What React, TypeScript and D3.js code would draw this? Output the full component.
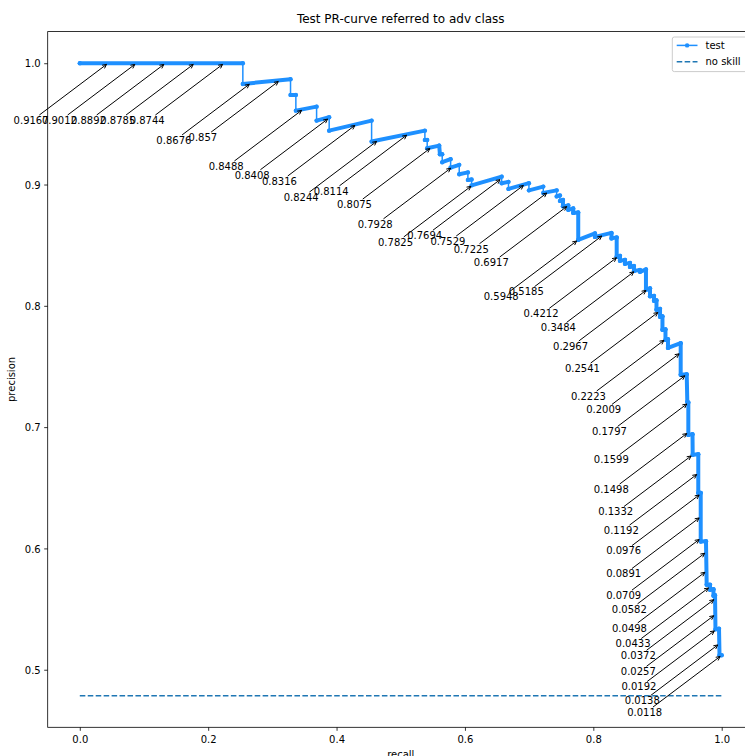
import React, { useEffect, useRef } from 'react'
import * as d3 from 'd3'

// PR curve vertices
const recall = [
  0, 0.254, 0.254, 0.3283, 0.3283, 0.3366, 0.3366, 0.3689, 0.3689, 0.3885,
  0.3885, 0.4546, 0.4546, 0.5376, 0.5376, 0.5412, 0.5412, 0.5599, 0.561, 0.5646,
  0.5646, 0.5777, 0.5777, 0.5911, 0.5911, 0.6046, 0.6046, 0.6104, 0.6104, 0.6572,
  0.6572, 0.6678, 0.6678, 0.6997, 0.6997, 0.722, 0.722, 0.7429, 0.7429, 0.748,
  0.748, 0.7527, 0.7527, 0.761, 0.761, 0.7687, 0.7687, 0.7765, 0.7765, 0.8026,
  0.8026, 0.8283, 0.8283, 0.8364, 0.8364, 0.8415, 0.8415, 0.8493, 0.8493, 0.8571,
  0.8571, 0.8633, 0.8633, 0.8727, 0.8727, 0.882, 0.882, 0.8883, 0.8883, 0.8945,
  0.8945, 0.8984, 0.8984, 0.9039, 0.9039, 0.9077, 0.9077, 0.9124, 0.9124, 0.9163,
  0.9163, 0.9361, 0.9361, 0.9455, 0.9464, 0.948, 0.948, 0.9545, 0.9548, 0.9635,
  0.9635, 0.9673, 0.9673, 0.9755, 0.9766, 0.9818, 0.9818, 0.9872, 0.9872, 0.9896,
  0.9903, 0.9958, 0.9966, 1.0
]
const precision = [
  1.0, 1.0, 0.9829, 0.9868, 0.9739, 0.9739, 0.9609, 0.9642, 0.9527, 0.9555,
  0.9444, 0.9527, 0.9354, 0.9444, 0.9368, 0.9368, 0.9299, 0.9321, 0.925, 0.925,
  0.9184, 0.9209, 0.914, 0.9162, 0.9085, 0.91, 0.9038, 0.9042, 0.8993, 0.9065,
  0.9011, 0.9022, 0.8964, 0.9011, 0.8952, 0.8983, 0.8931, 0.8952, 0.8902, 0.891,
  0.8865, 0.8873, 0.882, 0.8828, 0.8791, 0.8803, 0.8766, 0.877, 0.8544, 0.8597,
  0.8568, 0.8601, 0.8556, 0.8564, 0.8404, 0.8412, 0.8371, 0.8379, 0.8346, 0.8354,
  0.8321, 0.8329, 0.8288, 0.8296, 0.828, 0.83, 0.8132, 0.8144, 0.8078, 0.8082,
  0.8041, 0.8045, 0.7967, 0.7975, 0.7909, 0.7913, 0.7802, 0.7806, 0.7719, 0.7724,
  0.7653, 0.7692, 0.7431, 0.7435, 0.7208, 0.7204, 0.6936, 0.6941, 0.6772, 0.6776,
  0.6456, 0.6458, 0.6057, 0.6059, 0.57, 0.57, 0.5659, 0.5663, 0.5609, 0.5614,
  0.5333, 0.5338, 0.5119, 0.5119
]

// thresholds written next to the curve, and the curve point each one marks
const thrLabels = [
  '0.9167', '0.9012', '0.8892', '0.8785', '0.8744', '0.8676', '0.857', '0.8488',
  '0.8408', '0.8316', '0.8244', '0.8114', '0.8075', '0.7928', '0.7825', '0.7694',
  '0.7529', '0.7225', '0.6917', '0.5948', '0.5185', '0.4212', '0.3484', '0.2967',
  '0.2541', '0.2223', '0.2009', '0.1797', '0.1599', '0.1498', '0.1332', '0.1192',
  '0.0976', '0.0891', '0.0709', '0.0582', '0.0498', '0.0433', '0.0372', '0.0257',
  '0.0192', '0.0138', '0.0118'
]
const thrRecall = [
  0.0441, 0.0882, 0.1334, 0.1792, 0.2249, 0.2665, 0.3117, 0.348, 0.3885, 0.431,
  0.4649, 0.5116, 0.5479, 0.5802, 0.6118, 0.6572, 0.6935, 0.7298, 0.761, 0.7765,
  0.8155, 0.8385, 0.8655, 0.8845, 0.903, 0.9124, 0.9361, 0.945, 0.948, 0.948,
  0.9548, 0.9635, 0.9673, 0.9673, 0.9673, 0.976, 0.9763, 0.9818, 0.99, 0.99,
  0.991, 0.9963, 1.0
]
const thrPrecision = [
  1.0, 1.0, 1.0, 1.0, 1.0, 0.9836, 0.9859, 0.9621, 0.9549, 0.9497,
  0.9365, 0.9416, 0.9307, 0.9144, 0.8995, 0.905, 0.9002, 0.8939, 0.8828, 0.8544,
  0.8585, 0.8406, 0.829, 0.8137, 0.7955, 0.7725, 0.7614, 0.7433, 0.72, 0.6957,
  0.6772, 0.6619, 0.645, 0.6261, 0.6083, 0.597, 0.5813, 0.5684, 0.5587, 0.5455,
  0.533, 0.5214, 0.5119
]

const noSkill = 0.4786
const xTicks = [0, 0.2, 0.4, 0.6, 0.8, 1.0]
const yTicks = [0.5, 0.6, 0.7, 0.8, 0.9, 1.0]

const FONT = 'DejaVu Sans'
const TEST_COLOR = '#1e90ff'
const SKILL_COLOR = '#1f77b4'

export default function App() {
  const W = 745
  const H = 756
  const plot = { left: 47.7, right: 753.8, top: 31.6, bottom: 727.3 }

  // matplotlib style 5% margins around the data
  const yMin = noSkill - 0.05 * (1 - noSkill)
  const yMax = 1 + 0.05 * (1 - noSkill)
  const x = d3.scaleLinear().domain([-0.05, 1.05]).range([plot.left, plot.right])
  const y = d3.scaleLinear().domain([yMin, yMax]).range([plot.bottom, plot.top])

  const pts: [number, number][] = recall.map((r, i) => [r, precision[i]])
  const line = d3
    .line<[number, number]>()
    .x(d => x(d[0]))
    .y(d => y(d[1]))

  const xAxisRef = useRef<SVGGElement>(null)
  const yAxisRef = useRef<SVGGElement>(null)

  useEffect(() => {
    const fmt = d3.format('.1f')
    d3.select(xAxisRef.current!)
      .call(
        d3.axisBottom(x).tickValues(xTicks).tickFormat(d => fmt(+d)).tickSize(3.5).tickPadding(5.5).tickSizeOuter(0)
      )
      .call(g => g.select('.domain').remove())
      .attr('font-family', FONT)
      .attr('font-size', 10)
      .call(g => g.selectAll('line').attr('stroke', '#000').attr('stroke-width', 0.8))
      .call(g => g.selectAll('text').attr('fill', '#000'))

    d3.select(yAxisRef.current!)
      .call(
        d3.axisLeft(y).tickValues(yTicks).tickFormat(d => fmt(+d)).tickSize(3.5).tickPadding(3.5).tickSizeOuter(0)
      )
      .call(g => g.select('.domain').remove())
      .attr('font-family', FONT)
      .attr('font-size', 10)
      .call(g => g.selectAll('line').attr('stroke', '#000').attr('stroke-width', 0.8))
      .call(g => g.selectAll('text').attr('fill', '#000').attr('dy', '0.36em'))
  }, [])

  // segments where the reference is packed with markers
  const dense: number[] = []
  for (let i = 0; i < pts.length - 1; i++) {
    if (pts[i + 1][0] > pts[i][0] || pts[i][0] >= 0.75) dense.push(i)
  }

  const offX = -77
  const offY = 57

  return (
    <svg width={W} height={H} style={{ position: 'absolute', left: 0, top: 0, background: '#fff' }}>
      <rect x={0} y={0} width={W} height={H} fill="#fff" />
      <text x={(plot.left + plot.right) / 2} y={23} textAnchor="middle" fontFamily={FONT} fontSize={12}>
        Test PR-curve referred to adv class
      </text>

      {/* no skill line */}
      <line
        x1={x(0)}
        x2={x(1)}
        y1={y(noSkill)}
        y2={y(noSkill)}
        stroke={SKILL_COLOR}
        strokeWidth={1.5}
        strokeDasharray="5.55 2.4"
      />

      {/* PR curve */}
      <path d={line(pts) || ''} fill="none" stroke={TEST_COLOR} strokeWidth={1.5} strokeLinejoin="round" />
      {dense.map(i => (
        <line
          key={'d' + i}
          x1={x(pts[i][0])}
          y1={y(pts[i][1])}
          x2={x(pts[i + 1][0])}
          y2={y(pts[i + 1][1])}
          stroke={TEST_COLOR}
          strokeWidth={4}
          strokeLinecap="round"
        />
      ))}
      {pts.map((d, i) => (
        <circle key={'m' + i} cx={x(d[0])} cy={y(d[1])} r={2.2} fill={TEST_COLOR} />
      ))}

      {/* threshold annotations */}
      {thrLabels.map((lab, i) => {
        const px = x(thrRecall[i])
        const py = y(thrPrecision[i])
        const tx = px + offX
        const ty = py + offY
        const w = lab.replace('.', '').length * 6.36 + 3.18
        const hw = w / 2
        const hh = 5
        const cx = tx
        const cy = ty + 1
        const dx = px - cx
        const dy = py - cy
        const len = Math.hypot(dx, dy)
        const ux = dx / len
        const uy = dy / len
        const tExit = Math.min(hw / Math.abs(ux), hh / Math.abs(uy)) + 2
        const sx = cx + ux * tExit
        const sy = cy + uy * tExit
        const ex = px - ux * 2
        const ey = py - uy * 2
        const nx = -uy
        const ny = ux
        const hx = ex - ux * 4
        const hy = ey - uy * 4
        return (
          <g key={'a' + i}>
            <line x1={sx} y1={sy} x2={ex} y2={ey} stroke="#000" strokeWidth={1} />
            <polyline
              points={`${hx + nx * 2},${hy + ny * 2} ${ex},${ey} ${hx - nx * 2},${hy - ny * 2}`}
              fill="none"
              stroke="#000"
              strokeWidth={1}
            />
            <text x={tx} y={ty + 3.6} textAnchor="middle" fontFamily={FONT} fontSize={10} fill="#000">
              {lab}
            </text>
          </g>
        )
      })}

      {/* axes */}
      <g ref={xAxisRef} transform={`translate(0,${plot.bottom})`} />
      <g ref={yAxisRef} transform={`translate(${plot.left},0)`} />
      <rect
        x={plot.left}
        y={plot.top}
        width={plot.right - plot.left}
        height={plot.bottom - plot.top}
        fill="none"
        stroke="#000"
        strokeWidth={0.8}
      />

      <text x={(plot.left + plot.right) / 2} y={758} textAnchor="middle" fontFamily={FONT} fontSize={10}>
        recall
      </text>
      <text
        transform={`translate(15,${(plot.top + plot.bottom) / 2}) rotate(-90)`}
        textAnchor="middle"
        fontFamily={FONT}
        fontSize={10}
      >
        precision
      </text>

      {/* legend */}
      <g fontFamily={FONT} fontSize={10}>
        <rect x={672.3} y={37} width={76.5} height={34.6} rx={2} fill="#fff" fillOpacity={0.8} stroke="#ccc" strokeWidth={1} />
        <line x1={676.7} x2={697.5} y1={45.4} y2={45.4} stroke={TEST_COLOR} strokeWidth={1.5} />
        <circle cx={687.1} cy={45.4} r={2.2} fill={TEST_COLOR} />
        <text x={705.5} y={49}>test</text>
        <line
          x1={676.7}
          x2={697.5}
          y1={61.8}
          y2={61.8}
          stroke={SKILL_COLOR}
          strokeWidth={1.5}
          strokeDasharray="5.55 2.4"
        />
        <text x={705.5} y={65.4}>no skill</text>
      </g>
    </svg>
  )
}
